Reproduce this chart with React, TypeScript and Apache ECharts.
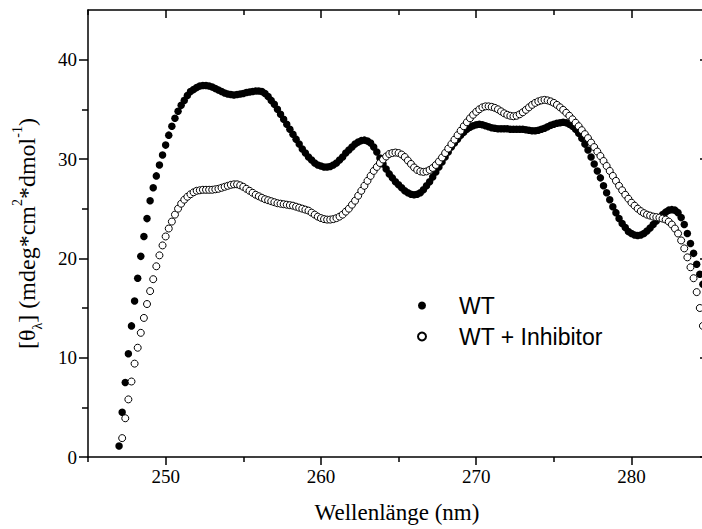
import React, { useEffect, useRef } from 'react';
import * as echarts from 'echarts';

// Wavelength (nm), one reading every 0.2 nm
const WAVELENGTH = [
  247.0, 247.2, 247.4, 247.6, 247.8, 248.0, 248.2, 248.4, 248.6, 248.8,
  249.0, 249.2, 249.4, 249.6, 249.8, 250.0, 250.2, 250.4, 250.6, 250.8,
  251.0, 251.2, 251.4, 251.6, 251.8, 252.0, 252.2, 252.4, 252.6, 252.8,
  253.0, 253.2, 253.4, 253.6, 253.8, 254.0, 254.2, 254.4, 254.6, 254.8,
  255.0, 255.2, 255.4, 255.6, 255.8, 256.0, 256.2, 256.4, 256.6, 256.8,
  257.0, 257.2, 257.4, 257.6, 257.8, 258.0, 258.2, 258.4, 258.6, 258.8,
  259.0, 259.2, 259.4, 259.6, 259.8, 260.0, 260.2, 260.4, 260.6, 260.8,
  261.0, 261.2, 261.4, 261.6, 261.8, 262.0, 262.2, 262.4, 262.6, 262.8,
  263.0, 263.2, 263.4, 263.6, 263.8, 264.0, 264.2, 264.4, 264.6, 264.8,
  265.0, 265.2, 265.4, 265.6, 265.8, 266.0, 266.2, 266.4, 266.6, 266.8,
  267.0, 267.2, 267.4, 267.6, 267.8, 268.0, 268.2, 268.4, 268.6, 268.8,
  269.0, 269.2, 269.4, 269.6, 269.8, 270.0, 270.2, 270.4, 270.6, 270.8,
  271.0, 271.2, 271.4, 271.6, 271.8, 272.0, 272.2, 272.4, 272.6, 272.8,
  273.0, 273.2, 273.4, 273.6, 273.8, 274.0, 274.2, 274.4, 274.6, 274.8,
  275.0, 275.2, 275.4, 275.6, 275.8, 276.0, 276.2, 276.4, 276.6, 276.8,
  277.0, 277.2, 277.4, 277.6, 277.8, 278.0, 278.2, 278.4, 278.6, 278.8,
  279.0, 279.2, 279.4, 279.6, 279.8, 280.0, 280.2, 280.4, 280.6, 280.8,
  281.0, 281.2, 281.4, 281.6, 281.8, 282.0, 282.2, 282.4, 282.6, 282.8,
  283.0, 283.2, 283.4, 283.6, 283.8, 284.0, 284.2, 284.4, 284.6,
];

const WT = [
  1.1, 4.5, 7.5, 10.4, 13.2, 15.7, 18.0, 20.2, 22.2, 24.0,
  25.8, 27.1, 28.3, 29.4, 30.4, 31.4, 32.4, 33.3, 34.1, 34.8,
  35.4, 35.9, 36.4, 36.8, 37.0, 37.2, 37.35, 37.4, 37.4, 37.35,
  37.25, 37.1, 36.95, 36.8, 36.65, 36.55, 36.5, 36.45, 36.5, 36.55,
  36.6, 36.7, 36.75, 36.8, 36.85, 36.85, 36.8, 36.6, 36.3, 35.9,
  35.5, 35.0, 34.5, 34.0, 33.5, 33.0, 32.5, 32.0, 31.5, 31.0,
  30.6, 30.2, 29.9, 29.6, 29.4, 29.3, 29.2, 29.2, 29.25, 29.4,
  29.6, 29.9, 30.2, 30.6, 30.9, 31.2, 31.5, 31.7, 31.85, 31.9,
  31.8, 31.6, 31.2, 30.7, 30.1, 29.5, 29.0, 28.5, 28.1, 27.7,
  27.4, 27.1, 26.8, 26.6, 26.45, 26.4, 26.45, 26.6, 26.9, 27.3,
  27.7, 28.2, 28.7, 29.2, 29.7, 30.2, 30.7, 31.2, 31.6, 32.0,
  32.4, 32.7, 33.0, 33.2, 33.35, 33.45, 33.5, 33.45, 33.35, 33.25,
  33.15, 33.1, 33.05, 33.05, 33.05, 33.05, 33.0, 33.0, 33.0, 33.0,
  33.0, 32.95, 32.9, 32.85, 32.85, 32.9, 33.0, 33.1, 33.25, 33.4,
  33.5, 33.6, 33.65, 33.7, 33.65, 33.5, 33.3, 33.0, 32.6, 32.1,
  31.5, 30.9, 30.2, 29.5, 28.8, 28.1, 27.3, 26.6, 25.9, 25.2,
  24.6, 24.0, 23.5, 23.1, 22.7, 22.5, 22.35, 22.3, 22.35, 22.5,
  22.75, 23.05, 23.4, 23.75, 24.1, 24.4, 24.65, 24.85, 24.9, 24.85,
  24.6, 24.1, 23.4, 22.5, 21.5, 20.5, 19.4, 18.4, 17.4,
];

const WT_INHIBITOR = [
  null, 1.9, 3.9, 5.8, 7.6, 9.4, 11.0, 12.5, 14.0, 15.4,
  16.7, 17.9, 19.2, 20.3, 21.3, 22.2, 23.0, 23.7, 24.4, 25.0,
  25.5, 25.9, 26.2, 26.45, 26.65, 26.8, 26.85, 26.9, 26.9, 26.9,
  26.9, 26.95, 27.0, 27.1, 27.2, 27.3, 27.4, 27.45, 27.45, 27.35,
  27.2, 27.0, 26.8, 26.6, 26.4, 26.25, 26.1, 25.95, 25.85, 25.75,
  25.65, 25.55, 25.5, 25.45, 25.4, 25.35, 25.3, 25.2, 25.1, 25.0,
  24.9, 24.8, 24.6, 24.4, 24.2, 24.05, 23.95, 23.9, 23.9, 23.95,
  24.05, 24.2, 24.4, 24.7, 25.0, 25.4, 25.8, 26.3, 26.8, 27.3,
  27.8, 28.3, 28.8, 29.2, 29.6, 29.95, 30.25, 30.5, 30.6, 30.65,
  30.6, 30.45, 30.2, 29.85, 29.5, 29.15, 28.9, 28.75, 28.7, 28.75,
  28.9, 29.1, 29.4, 29.75, 30.15, 30.6, 31.05, 31.5, 31.95, 32.4,
  32.85, 33.3, 33.7, 34.1, 34.45, 34.75, 35.0, 35.2, 35.3, 35.3,
  35.25, 35.15, 35.0, 34.8, 34.6, 34.45, 34.35, 34.3, 34.35, 34.5,
  34.7, 34.95, 35.2, 35.45, 35.65, 35.8, 35.9, 35.95, 35.9, 35.8,
  35.65, 35.45, 35.2, 34.95, 34.65, 34.35, 34.0, 33.65, 33.3, 32.9,
  32.5, 32.1, 31.65, 31.2, 30.75, 30.3, 29.8, 29.3, 28.8, 28.3,
  27.8, 27.3, 26.85, 26.4, 26.0, 25.6, 25.3, 25.0, 24.75, 24.55,
  24.4, 24.3, 24.2, 24.15, 24.1, 24.0, 23.9, 23.7, 23.4, 23.0,
  22.5, 21.8, 21.0, 20.1, 19.1, 18.0, 16.6, 15.0, 13.2,
];

const SERIES_NAMES = ['WT', 'WT + Inhibitor'];
const X_MAJOR = [250, 260, 270, 280];
const X_MINOR = [245, 255, 265, 275];
const Y_MAJOR = [0, 10, 20, 30, 40];
const Y_MINOR = [5, 15, 25, 35];
const X_RANGE = [245, 284.8];
const Y_RANGE = [0, 45];

export default function App() {
  const ref = useRef<HTMLDivElement>(null);

  useEffect(() => {
    if (!ref.current) return;
    const chart = echarts.init(ref.current, null, { renderer: 'svg' });
    const serif = 'Liberation Serif';
    const sans = 'Liberation Sans';
    const black = '#000';
    const rect = { left: 88, top: 10, width: 618, height: 447 };
    const line = { show: true, onZero: false, lineStyle: { color: black, width: 1.5 } };
    const noLine = { show: false };
    const tickStyle = { color: black, width: 1.5 };

    const xCommon = {
      type: 'value',
      min: X_RANGE[0],
      max: X_RANGE[1],
      interval: 5,
      splitLine: { show: false },
    };
    const yCommon = {
      type: 'value',
      min: Y_RANGE[0],
      max: Y_RANGE[1],
      interval: 5,
      splitLine: { show: false },
    };

    const toPairs = (vals: (number | null)[]) =>
      WAVELENGTH.map((x, i) => [x, vals[i]]).filter((d) => d[1] !== null);

    chart.setOption({
      animation: false,
      backgroundColor: '#fff',
      grid: [
        { ...rect, containLabel: false },
        { ...rect, containLabel: false },
      ],
      xAxis: [
        {
          ...xCommon,
          gridIndex: 0,
          position: 'bottom',
          axisLine: line,
          axisTick: { show: true, inside: false, length: 8, customValues: X_MAJOR, lineStyle: tickStyle },
          axisLabel: {
            show: true,
            customValues: X_MAJOR,
            margin: 10,
            color: black,
            fontFamily: serif,
            fontSize: 19,
          },
          name: 'Wellenlänge (nm)',
          nameLocation: 'middle',
          nameGap: 44,
          nameTextStyle: { fontFamily: serif, fontSize: 23, color: black },
        },
        {
          ...xCommon,
          gridIndex: 0,
          position: 'top',
          axisLine: line,
          axisTick: { show: true, inside: true, length: 8, customValues: X_MAJOR, lineStyle: tickStyle },
          axisLabel: { show: false },
        },
        {
          ...xCommon,
          gridIndex: 1,
          position: 'bottom',
          axisLine: noLine,
          axisTick: { show: true, inside: false, length: 5, customValues: X_MINOR, lineStyle: tickStyle },
          axisLabel: { show: false },
        },
        {
          ...xCommon,
          gridIndex: 1,
          position: 'top',
          axisLine: noLine,
          axisTick: { show: true, inside: true, length: 5, customValues: X_MINOR, lineStyle: tickStyle },
          axisLabel: { show: false },
        },
      ],
      yAxis: [
        {
          ...yCommon,
          gridIndex: 0,
          position: 'left',
          axisLine: line,
          axisTick: { show: true, inside: false, length: 9, customValues: Y_MAJOR, lineStyle: tickStyle },
          axisLabel: {
            show: true,
            customValues: Y_MAJOR,
            margin: 11,
            color: black,
            fontFamily: serif,
            fontSize: 19,
          },
          name: '{a|[θ}{sub|λ}{a|] (mdeg*cm}{sup|2}{a|*dmol}{sup|-1}{a|)}',
          nameLocation: 'middle',
          nameGap: 44,
          nameTextStyle: {
            fontFamily: serif,
            fontSize: 24,
            color: black,
            padding: [0, 0, 0, 0],
            rich: {
              a: { fontFamily: serif, fontSize: 24, color: black, lineHeight: 34, verticalAlign: 'middle' },
              sub: { fontFamily: serif, fontSize: 14, color: black, lineHeight: 14, verticalAlign: 'bottom' },
              sup: { fontFamily: serif, fontSize: 14, color: black, lineHeight: 14, verticalAlign: 'top' },
            },
          },
        },
        {
          ...yCommon,
          gridIndex: 0,
          position: 'right',
          axisLine: line,
          axisTick: { show: true, inside: true, length: 6, customValues: Y_MAJOR, lineStyle: tickStyle },
          axisLabel: { show: false },
        },
        {
          ...yCommon,
          gridIndex: 1,
          position: 'left',
          axisLine: noLine,
          axisTick: { show: true, inside: false, length: 6, customValues: Y_MINOR, lineStyle: tickStyle },
          axisLabel: { show: false },
        },
      ],
      legend: {
        orient: 'vertical',
        left: 412,
        top: 289,
        itemWidth: 8,
        itemHeight: 8,
        itemGap: 8,
        textStyle: { fontFamily: sans, fontSize: 23, color: black, padding: [0, 0, 0, 28] },
        data: SERIES_NAMES.map((n) => ({ name: n, icon: 'circle' })),
      },
      series: [
        {
          type: 'scatter',
          name: SERIES_NAMES[0],
          xAxisIndex: 0,
          yAxisIndex: 0,
          symbol: 'circle',
          symbolSize: 7.5,
          data: toPairs(WT),
          itemStyle: { color: black, opacity: 1 },
        },
        {
          type: 'scatter',
          name: SERIES_NAMES[1],
          xAxisIndex: 0,
          yAxisIndex: 0,
          symbol: 'circle',
          symbolSize: 7,
          data: toPairs(WT_INHIBITOR),
          itemStyle: { color: '#fff', borderColor: black, borderWidth: 1, opacity: 1 },
        },
      ],
    });

    return () => chart.dispose();
  }, []);

  return (
    <div
      ref={ref}
      style={{ position: 'fixed', left: 0, top: 0, width: 720, height: 529, background: '#fff' }}
    />
  );
}
